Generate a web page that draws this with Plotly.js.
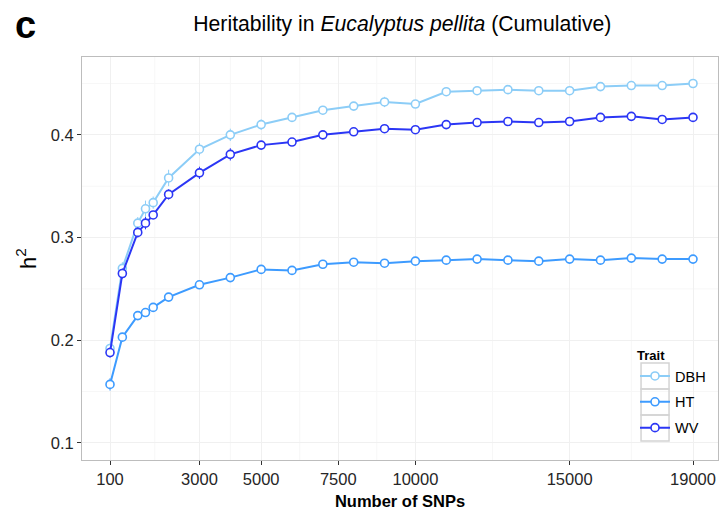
<!DOCTYPE html>
<html><head><meta charset="utf-8">
<script src="https://cdn.plot.ly/plotly-3.0.1.min.js"></script>
<style>html,body{margin:0;padding:0;background:#fff}#chart{width:721px;height:515px}</style>
</head><body><div id="chart"></div>
<script>
const snps = [100,500,1000,1250,1500,2000,3000,4000,5000,6000,7000,8000,9000,10000,11000,12000,13000,14000,15000,16000,17000,18000,19000];
const dbh = [0.192,0.270,0.314,0.328,0.334,0.358,0.386,0.400,0.410,0.417,0.424,0.428,0.432,0.430,0.442,0.443,0.444,0.443,0.443,0.447,0.448,0.448,0.450];
const ht  = [0.157,0.203,0.224,0.227,0.232,0.242,0.254,0.261,0.269,0.268,0.274,0.276,0.275,0.277,0.278,0.279,0.278,0.277,0.279,0.278,0.280,0.279,0.279];
const wv  = [0.188,0.265,0.305,0.314,0.322,0.342,0.363,0.381,0.390,0.393,0.400,0.403,0.406,0.405,0.410,0.412,0.413,0.412,0.413,0.417,0.418,0.415,0.417];
const dbhErr = [0.004,0.006,0.006,0.008,0.006,0.008,0.006,0.006,0.005,0.003,0.003,0.003,0.005,0.003,0.003,0.003,0.003,0.003,0.003,0.003,0.003,0.003,0.003];
const htErr  = [0.006,0.003,0.003,0.003,0.003,0.003,0.003,0.003,0.003,0.003,0.003,0.003,0.003,0.003,0.003,0.003,0.003,0.003,0.003,0.003,0.003,0.003,0.003];
const wvErr  = [0.005,0.005,0.005,0.006,0.004,0.005,0.006,0.006,0.003,0.003,0.003,0.003,0.003,0.003,0.003,0.003,0.003,0.003,0.003,0.003,0.003,0.003,0.003];
const traits = ['DBH','HT','WV'];
const xTicks = [100,3000,5000,7500,10000,15000,19000];
const xTickText = ['100','3000','5000','7500','10000','15000','19000'];
const yTicks = [0.1,0.2,0.3,0.4];
const yTickText = ['0.1','0.2','0.3','0.4'];
const colors = {DBH:'#8ccdf7', HT:'#3d9bff', WV:'#2b36f5'};
const series = {DBH:[dbh,dbhErr], HT:[ht,htErr], WV:[wv,wvErr]};

const traces = traits.map(t => ({
  x: snps, y: series[t][0], name: t, legendgroup: t, type:'scatter', mode:'lines+markers',
  line:{color:colors[t], width:2},
  marker:{symbol:'circle', size:8, color:'#ffffff', line:{color:colors[t], width:1.6}},
  error_y:{type:'data', array:series[t][1], visible:true, color:colors[t], thickness:1, width:0}
}));

const xr = [-808, 19810], yr = [0.0834, 0.4758];
const shapes = [];
for (let i=0;i<xTicks.length-1;i++){
  const m=(xTicks[i]+xTicks[i+1])/2;
  shapes.push({type:'line', xref:'x', yref:'paper', x0:m, x1:m, y0:0, y1:1, line:{color:'#f7f7f7', width:1}, layer:'below'});
}
for (let i=0;i<yTicks.length;i++){
  const m=yTicks[i]+0.05;
  shapes.push({type:'line', xref:'paper', yref:'y', x0:0, x1:1, y0:m, y1:m, line:{color:'#f7f7f7', width:1}, layer:'below'});
}
// legend key boxes
const boxTop = 0.2407, boxH = 0.0645;
traits.forEach((t,i)=>{
  shapes.push({type:'rect', xref:'paper', yref:'paper', x0:0.879, x1:0.923, y0:boxTop-(i+1)*boxH, y1:boxTop-i*boxH,
    line:{color:'#d4d4d4', width:1.5}, fillcolor:'rgba(0,0,0,0)', layer:'above'});
});

const layout = {
  width:721, height:515,
  margin:{l:82, r:3, t:57, b:55},
  paper_bgcolor:'#fff', plot_bgcolor:'#fff',
  font:{family:'Liberation Sans, Arial, sans-serif', color:'#000'},
  title:{text:'Heritability in <i>Eucalyptus pellita</i> (Cumulative)', font:{size:21.2, color:'#000'}, x:0.558, xanchor:'center', y:0.955, yanchor:'middle'},
  xaxis:{range:xr, tickmode:'array', tickvals:xTicks, ticktext:xTickText, showgrid:true, gridcolor:'#f0f0f0', gridwidth:1,
    zeroline:false, showline:true, linecolor:'#bdbdbd', linewidth:1, mirror:true, ticks:'outside', ticklen:4, tickcolor:'#333', tickwidth:1,
    tickfont:{size:16.5, color:'#262626'},
    title:{text:'<b>Number of SNPs</b>', font:{size:16.5, color:'#000'}, standoff:8}},
  yaxis:{range:yr, tickmode:'array', tickvals:yTicks, ticktext:yTickText, showgrid:true, gridcolor:'#f0f0f0', gridwidth:1,
    zeroline:false, showline:true, linecolor:'#bdbdbd', linewidth:1, mirror:true, ticks:'outside', ticklen:4, tickcolor:'#333', tickwidth:1,
    tickfont:{size:16.5, color:'#262626'},
    title:{text:'h<sup>2</sup>', font:{size:22, color:'#000'}, standoff:8}},
  legend:{x:0.8695, y:0.29, xanchor:'left', yanchor:'top', bgcolor:'rgba(255,255,255,0)',
    title:{text:'<b>Trait</b>', font:{size:13}}, font:{size:14.5}, itemwidth:30, tracegroupgap:4, traceorder:'grouped'},
  showlegend:true,
  shapes:shapes,
  annotations:[{text:'<b>c</b>', xref:'paper', yref:'paper', x:-0.108, y:1.08, xanchor:'left', yanchor:'middle', showarrow:false, font:{size:38, family:'Liberation Sans, Arial, sans-serif', color:'#000'}}]
};
Plotly.newPlot('chart', traces, layout, {displayModeBar:false, staticPlot:true});
</script></body></html>
